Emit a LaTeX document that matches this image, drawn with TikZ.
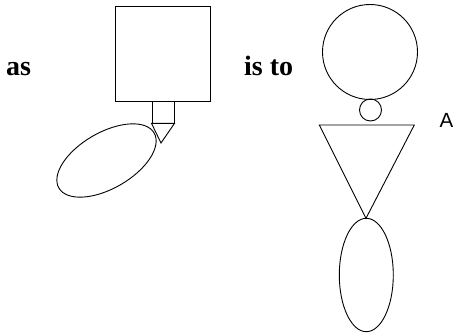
\documentclass[tikz,border=0pt]{standalone}
\usepackage{fontspec}
\setmainfont{Liberation Serif}
\newfontfamily\asans{Liberation Sans}
\usetikzlibrary{shapes.geometric}
\tikzset{
  shape line/.style={draw=black, line width=0.9pt},
  word/.style={anchor=base west, inner sep=0pt, font=\fontsize{28}{30}\selectfont\bfseries},
  letter/.style={anchor=base west, inner sep=0pt, font=\asans\fontsize{20.5}{24}\selectfont}
}
\begin{document}
\begin{tikzpicture}[x=1pt,y=1pt]
\useasboundingbox (0,0) rectangle (453,335);
% left figure
\node[word] (as) at (6,259) {as};
\node[shape line, rectangle, inner sep=0pt, minimum width=95pt, minimum height=95pt] (box) at (162.5,281.5) {};
\node[shape line, rectangle, inner sep=0pt, minimum width=22pt, minimum height=22pt] (nozzle) at (163,223) {};
\draw[shape line, line join=miter] (nozzle.south west) -- (nozzle.south east) -- (161,192) -- cycle;
\node[shape line, ellipse, inner sep=0pt, minimum width=110pt, minimum height=56pt, rotate=30] (blob) at (106.5,174.5) {};
% right figure
\node[word] (isto) at (244,259) {is to};
\node[shape line, circle, inner sep=0pt, minimum size=95pt] (head) at (370,283) {};
\node[shape line, circle, inner sep=0pt, minimum size=22pt] (neck) at (370.5,225) {};
\coordinate (tl) at (319.3,210);
\coordinate (tr) at (414.3,210);
\coordinate (tb) at (366,116.7);
\draw[shape line] (tl) -- (tr) -- (tb) -- cycle;
\node[shape line, ellipse, inner sep=0pt, minimum width=54pt, minimum height=113.4pt] (leg) at (366.3,60) {};
\node[letter] (A) at (439.5,207.3) {A};
\end{tikzpicture}
\end{document}
